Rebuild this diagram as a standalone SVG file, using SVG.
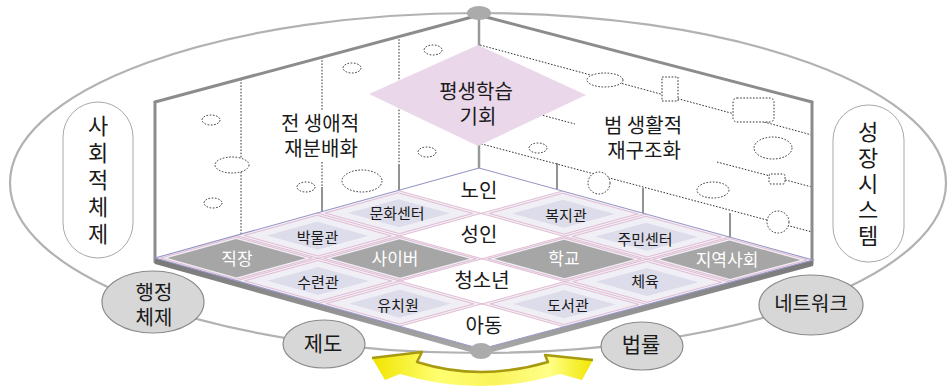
<svg xmlns="http://www.w3.org/2000/svg" width="952" height="392" viewBox="0 0 952 392">
<defs>
<style>
text{font-family:"Noto Sans CJK KR","Noto Sans CJK SC",sans-serif;fill:#1a1a1a;text-anchor:middle}
.edge{stroke:#8c8c8c;stroke-width:3;fill:none;stroke-linecap:round}
.dot{stroke:#333;stroke-width:1;stroke-dasharray:1.6 1.6;fill:#fff}
.dl{stroke:#333;stroke-width:1;stroke-dasharray:1.6 1.6;fill:none}
.sol{stroke:#777;stroke-width:1.6;fill:none}
.wh{fill:#fff}
.pk{fill:none;stroke:#E0B6CE;stroke-width:0.9;vector-effect:non-scaling-stroke}
.in{fill:#DCDCEA}
.dk{fill:#A6A6A6}
.grid{fill:none;stroke:#E0B6CE;stroke-width:0.9}
.ct{font-size:15px}
.wt{font-size:20px}
.dt{font-size:17px;fill:#fff}
.nd{fill:#D7D7D7;stroke:#8a8a8a;stroke-width:1.2}
.pill{fill:#fff;stroke:#a8a8a8;stroke-width:1}
.vt{font-size:22px;writing-mode:vertical-rl;text-orientation:upright}
</style>
<linearGradient id="yg" x1="0" y1="0" x2="1" y2="0">
<stop offset="0" stop-color="#F0E400"/>
<stop offset="0.3" stop-color="#FFFF70"/>
<stop offset="0.55" stop-color="#FAF35A"/>
<stop offset="0.8" stop-color="#FFFF88"/>
<stop offset="1" stop-color="#F2E600"/>
</linearGradient>
<linearGradient id="band" x1="0" y1="0" x2="0" y2="1">
<stop offset="0" stop-color="#777"/>
<stop offset="1" stop-color="#aaa"/>
</linearGradient>
</defs>
<rect width="952" height="392" fill="#fff"/>

<g id="connectors">
<ellipse cx="478" cy="183" rx="468" ry="170" fill="none" stroke="#b2b2b2" stroke-width="2.2"/>
</g>

<g id="walls">
<polygon points="155,102 479,16 479,168 155,258" fill="#fff"/>
<polygon points="479,16 812,102 813,260 479,168" fill="#fff"/>
<line class="dl" x1="241" y1="79" x2="241" y2="234"/>
<line class="dl" x1="322" y1="57" x2="322" y2="111"/>
<line class="dl" x1="322" y1="162" x2="322" y2="187"/>
<line class="sol" x1="322" y1="187" x2="322" y2="212"/>
<line class="dl" x1="399" y1="36" x2="399" y2="165"/>
<line class="sol" x1="399" y1="165" x2="399" y2="190"/>
<line class="sol" x1="557" y1="163" x2="557" y2="190"/>
<line class="sol" x1="643" y1="188" x2="643" y2="213"/>
<line class="sol" x1="730" y1="213" x2="730" y2="237"/>
<line class="dl" x1="480" y1="45" x2="812" y2="135"/>
<line class="dl" x1="478" y1="98" x2="575" y2="124"/>
<line class="dl" x1="717" y1="162" x2="812" y2="187"/>
<line class="dl" x1="478" y1="143" x2="812" y2="232"/>
<ellipse class="dot" cx="211" cy="120" rx="9" ry="5"/>
<ellipse class="dot" cx="232" cy="165" rx="17" ry="8"/>
<ellipse class="dot" cx="213" cy="203" rx="9" ry="5"/>
<ellipse class="dot" cx="352" cy="68" rx="9" ry="5"/>
<ellipse class="dot" cx="306" cy="187" rx="9" ry="5"/>
<ellipse class="dot" cx="362" cy="181" rx="20" ry="11"/>
<ellipse class="dot" cx="433" cy="50" rx="9" ry="5"/>
<ellipse class="dot" cx="427" cy="152" rx="9" ry="5"/>
<ellipse class="dot" cx="538" cy="148" rx="9" ry="5"/>
<ellipse class="dot" cx="605" cy="80" rx="18" ry="7"/>
<rect class="dot" x="662" y="77" width="16" height="24"/>
<rect class="dot" x="733" y="98" width="41" height="24" rx="4"/>
<ellipse class="dot" cx="773" cy="148" rx="19" ry="11"/>
<rect class="dot" x="769" y="174" width="16" height="10" rx="2"/>
<ellipse class="dot" cx="599" cy="183" rx="11" ry="11"/>
<ellipse class="dot" cx="713" cy="190" rx="16" ry="8"/>
<ellipse class="dot" cx="778" cy="222" rx="11" ry="11"/>
<line class="edge" x1="155" y1="102" x2="472" y2="17"/>
<line class="edge" x1="486" y1="17" x2="812" y2="102"/>
<line class="edge" x1="155" y1="102" x2="155" y2="262"/>
<line class="edge" x1="812" y1="102" x2="812" y2="264"/>
<line x1="479" y1="18" x2="479" y2="168" stroke="#999" stroke-width="2.5"/>
<text class="wt"><tspan x="320" y="131">전 생애적</tspan><tspan x="321" y="156">재분배화</tspan></text>
<text class="wt"><tspan x="643" y="133">범 생활적</tspan><tspan x="644" y="158">재구조화</tspan></text>
</g>

<g id="node-lifelong">
<polygon points="369,94 478,45 586,95 478,146" fill="#EAD8EA"/>
<text class="wt"><tspan x="476" y="98.5">평생학습</tspan><tspan x="478" y="123.5">기회</tspan></text>
</g>

<g id="node-top"><ellipse cx="479" cy="13" rx="12" ry="7" fill="#ABABAB"/></g>

<g id="floor">
<polygon points="155,258 481,349 813,260 813,266 481,355 155,264" fill="url(#band)"/>
<polygon points="479,168 155,258 481,349 813,260" fill="#F1EFF6"/>
</g>

<g id="cell-노인">
<polygon class="wh" points="479,168 398,190.5 481,213.4 562.5,191"/>
<text class="wt" x="479" y="198.4">노인</text>
</g>
<g id="cell-문화센터">
<polygon class="pk" points="398,190.5 317,213 399.5,235.9 481,213.4" transform="translate(398.9 213.2) scale(.9) translate(-398.9 -213.2)"/>
<polygon class="in" points="398,190.5 317,213 399.5,235.9 481,213.4" transform="translate(398.9 213.2) scale(.62) translate(-398.9 -213.2)"/>
<text class="ct" x="397" y="218.6">문화센터</text>
</g>
<g id="cell-박물관">
<polygon class="pk" points="317,213 236,235.5 318,258.3 399.5,235.9" transform="translate(317.6 235.7) scale(.9) translate(-317.6 -235.7)"/>
<polygon class="in" points="317,213 236,235.5 318,258.3 399.5,235.9" transform="translate(317.6 235.7) scale(.62) translate(-317.6 -235.7)"/>
<text class="ct" x="317.5" y="243">박물관</text>
</g>
<g id="cell-직장">
<polygon class="pk" points="236,235.5 155,258 236.5,280.8 318,258.3" transform="translate(236.4 258.2) scale(.93) translate(-236.4 -258.2)"/>
<polygon class="dk" points="236,235.5 155,258 236.5,280.8 318,258.3" transform="translate(236.4 258.2) scale(.85) translate(-236.4 -258.2)"/>
<text class="dt" x="237" y="265.3">직장</text>
</g>
<g id="cell-복지관">
<polygon class="pk" points="562.5,191 481,213.4 564,236.4 646,214" transform="translate(563.4 213.7) scale(.9) translate(-563.4 -213.7)"/>
<polygon class="in" points="562.5,191 481,213.4 564,236.4 646,214" transform="translate(563.4 213.7) scale(.62) translate(-563.4 -213.7)"/>
<text class="ct" x="566" y="220.6">복지관</text>
</g>
<g id="cell-성인">
<polygon class="wh" points="481,213.4 399.5,235.9 482,258.8 564,236.4"/>
<text class="wt" x="479" y="242.4">성인</text>
</g>
<g id="cell-사이버">
<polygon class="pk" points="399.5,235.9 318,258.3 400,281.1 482,258.8" transform="translate(399.9 258.5) scale(.93) translate(-399.9 -258.5)"/>
<polygon class="dk" points="399.5,235.9 318,258.3 400,281.1 482,258.8" transform="translate(399.9 258.5) scale(.85) translate(-399.9 -258.5)"/>
<text class="dt" x="395" y="265.3">사이버</text>
</g>
<g id="cell-수련관">
<polygon class="pk" points="318,258.3 236.5,280.8 318,303.5 400,281.1" transform="translate(318.1 280.9) scale(.9) translate(-318.1 -280.9)"/>
<polygon class="in" points="318,258.3 236.5,280.8 318,303.5 400,281.1" transform="translate(318.1 280.9) scale(.62) translate(-318.1 -280.9)"/>
<text class="ct" x="318" y="288">수련관</text>
</g>
<g id="cell-주민센터">
<polygon class="pk" points="646,214 564,236.4 647,259.3 729.5,237" transform="translate(646.6 236.7) scale(.9) translate(-646.6 -236.7)"/>
<polygon class="in" points="646,214 564,236.4 647,259.3 729.5,237" transform="translate(646.6 236.7) scale(.62) translate(-646.6 -236.7)"/>
<text class="ct" x="645" y="244.6">주민센터</text>
</g>
<g id="cell-학교">
<polygon class="pk" points="564,236.4 482,258.8 564.5,281.6 647,259.3" transform="translate(564.4 259) scale(.93) translate(-564.4 -259)"/>
<polygon class="dk" points="564,236.4 482,258.8 564.5,281.6 647,259.3" transform="translate(564.4 259) scale(.85) translate(-564.4 -259)"/>
<text class="dt" x="564" y="265.3">학교</text>
</g>
<g id="cell-청소년">
<polygon class="wh" points="482,258.8 400,281.1 482,303.9 564.5,281.6"/>
<text class="wt" x="482" y="288.4">청소년</text>
</g>
<g id="cell-유치원">
<polygon class="pk" points="400,281.1 318,303.5 399.5,326.3 482,303.9" transform="translate(399.9 303.7) scale(.9) translate(-399.9 -303.7)"/>
<polygon class="in" points="400,281.1 318,303.5 399.5,326.3 482,303.9" transform="translate(399.9 303.7) scale(.62) translate(-399.9 -303.7)"/>
<text class="ct" x="398" y="310.6">유치원</text>
</g>
<g id="cell-지역사회">
<polygon class="pk" points="729.5,237 647,259.3 730,282.3 813,260" transform="translate(729.9 259.7) scale(.93) translate(-729.9 -259.7)"/>
<polygon class="dk" points="729.5,237 647,259.3 730,282.3 813,260" transform="translate(729.9 259.7) scale(.85) translate(-729.9 -259.7)"/>
<text class="dt" x="727" y="266.3">지역사회</text>
</g>
<g id="cell-체육">
<polygon class="pk" points="647,259.3 564.5,281.6 647,304.5 730,282.3" transform="translate(647.1 281.9) scale(.9) translate(-647.1 -281.9)"/>
<polygon class="in" points="647,259.3 564.5,281.6 647,304.5 730,282.3" transform="translate(647.1 281.9) scale(.62) translate(-647.1 -281.9)"/>
<text class="ct" x="645" y="286.6">체육</text>
</g>
<g id="cell-도서관">
<polygon class="pk" points="564.5,281.6 482,303.9 564,326.8 647,304.5" transform="translate(564.4 304.2) scale(.9) translate(-564.4 -304.2)"/>
<polygon class="in" points="564.5,281.6 482,303.9 564,326.8 647,304.5" transform="translate(564.4 304.2) scale(.62) translate(-564.4 -304.2)"/>
<text class="ct" x="568" y="310.6">도서관</text>
</g>
<g id="cell-아동">
<polygon class="wh" points="482,303.9 399.5,326.3 481,349 564,326.8"/>
<text class="wt" x="484" y="333.4">아동</text>
</g>

<g id="floor-lines">
<path class="grid" d="M398,190.5 L481,213.4 L564,236.4 L647,259.3 L730,282.3 M317,213 L399.5,235.9 L482,258.8 L564.5,281.6 L647,304.5 M236,235.5 L318,258.3 L400,281.1 L482,303.9 L564,326.8 M562.5,191 L481,213.4 L399.5,235.9 L318,258.3 L236.5,280.8 M646,214 L564,236.4 L482,258.8 L400,281.1 L318,303.5 M729.5,237 L647,259.3 L564.5,281.6 L482,303.9 L399.5,326.3"/>
<polygon points="479,168 155,258 481,349 813,260" fill="none" stroke="#9595C6" stroke-width="1.1"/>
</g>

<g id="node-bottom"><ellipse cx="481" cy="351" rx="11" ry="8" fill="#ABABAB"/></g>

<g id="node-사회적체제">
<rect class="pill" x="63" y="102" width="70" height="156" rx="35"/>
<text class="vt" x="98" y="182.5" letter-spacing="5">사회적체제</text>
</g>
<g id="node-성장시스템">
<rect class="pill" x="833" y="105" width="71" height="157" rx="35"/>
<text class="vt" x="868" y="185.5" letter-spacing="4">성장시스템</text>
</g>
<g id="node-행정체제">
<ellipse class="nd" cx="153" cy="302" rx="51" ry="31"/>
<text class="wt"><tspan x="154" y="299.5">행정</tspan><tspan x="154" y="325">체제</tspan></text>
</g>
<g id="node-제도">
<ellipse class="nd" cx="324" cy="344" rx="41" ry="24"/>
<text class="wt" x="323" y="351" style="font-size:21px">제도</text>
</g>
<g id="node-법률">
<ellipse class="nd" cx="642" cy="346" rx="41" ry="24"/>
<text class="wt" x="641" y="352" style="font-size:21px">법률</text>
</g>
<g id="node-네트워크">
<ellipse class="nd" cx="811" cy="305" rx="52" ry="30"/>
<text class="wt" x="811" y="310.5">네트워크</text>
</g>

<g id="arrow">
<path d="M372,358 L422,352 L417,362 Q480,382 548,362 L545,355 L593,360 L582,380 L560,374 Q480,398 400,374 L385,380 Z" fill="url(#yg)"/>
<path d="M372,358 L422,352 L417,362 Q480,382 548,362 L545,355 L593,360" fill="none" stroke="#A89A10" stroke-width="2.5" stroke-linejoin="round"/>
</g>
</svg>
